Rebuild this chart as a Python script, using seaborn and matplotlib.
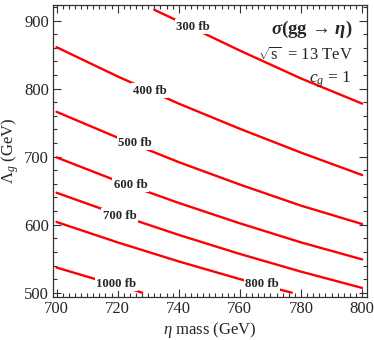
import matplotlib
matplotlib.use('Agg')
import matplotlib.pyplot as plt
from matplotlib.ticker import MultipleLocator
import seaborn as sns

# contour lines: eta mass (GeV) -> Lambda_g (GeV)
m_300 = [732, 740, 760, 780, 800]
lam_300 = [916, 899, 856, 815, 778]
m_400 = [700, 720, 740, 760, 780, 800]
lam_400 = [861, 818, 778, 741, 706, 673]
m_500 = [700, 720, 740, 760, 780, 800]
lam_500 = [766, 728, 692, 659, 628, 601]
m_600 = [700, 720, 740, 760, 780, 800]
lam_600 = [699, 664, 632, 602, 574, 549]
m_700 = [700, 720, 740, 760, 780, 800]
lam_700 = [647, 615, 585, 557, 531, 507]
m_800 = [700, 720, 740, 760, 777]
lam_800 = [604, 574, 546, 520, 500]
m_1000 = [700, 712, 720, 728]
lam_1000 = [537, 521, 512, 500]

contours = [(m_300, lam_300), (m_400, lam_400), (m_500, lam_500), (m_600, lam_600),
            (m_700, lam_700), (m_800, lam_800), (m_1000, lam_1000)]

# label text and where it sits
label_text = ['300 fb', '400 fb', '500 fb', '600 fb', '700 fb', '800 fb', '1000 fb']
label_m = [744.6, 730.5, 725.7, 724.2, 720.7, 767.3, 719.5]
label_lam = [891, 797, 720, 658.4, 613, 512.8, 512.8]

sns.set_style('ticks')
plt.rcParams['font.family'] = ['Liberation Serif', 'DejaVu Serif']
plt.rcParams['mathtext.fontset'] = 'custom'
plt.rcParams['mathtext.rm'] = 'Liberation Serif'
plt.rcParams['mathtext.it'] = 'Liberation Serif:italic'
plt.rcParams['mathtext.bf'] = 'Liberation Serif:bold'
plt.rcParams['mathtext.bfit'] = 'Liberation Serif:bold:italic'

fig = plt.figure(figsize=(3.74, 3.40), dpi=100)
ax = fig.add_axes([53 / 374, 43 / 340, 314 / 374, 292 / 340])

for m, lam in contours:
    sns.lineplot(x=m, y=lam, ax=ax, color='#ff0000', lw=1.7, sort=False, estimator=None)

for t, xm, yl in zip(label_text, label_m, label_lam):
    ax.text(xm, yl, t, fontsize=9.2, fontweight='bold', ha='center', va='center', zorder=5,
            bbox=dict(facecolor='white', edgecolor='none', pad=1.0))

ax.text(0.955, 0.915, r'$\mathbfit{\sigma}\mathbf{(gg}\,\mathbf{\rightarrow}\,\mathbfit{\eta}\mathbf{)}$',
        transform=ax.transAxes, fontsize=13.5, ha='right', va='center')
ax.text(0.955, 0.827, r'$\sqrt{\mathrm{s}}$  = 13 TeV', transform=ax.transAxes,
        fontsize=12, ha='right', va='center')
ax.text(0.95, 0.745, r'$c_g$ = 1', transform=ax.transAxes,
        fontsize=12.5, ha='right', va='center')

ax.set_xlim(698.85, 801.6)
ax.set_ylim(493.7, 923)
ax.xaxis.set_major_locator(MultipleLocator(20))
ax.xaxis.set_minor_locator(MultipleLocator(2))
ax.yaxis.set_major_locator(MultipleLocator(100))
ax.yaxis.set_minor_locator(MultipleLocator(20))
ax.tick_params(which='both', direction='in', top=True, right=True, labelsize=12,
               color='#333333', width=0.8)
ax.tick_params(which='major', length=6, pad=3)
ax.tick_params(which='minor', length=3)
for s in ax.spines.values():
    s.set_visible(True)
    s.set_color('#333333')
    s.set_linewidth(0.9)

ax.set_xlabel(r'$\eta$ mass (GeV)', fontsize=12, labelpad=2)
ax.set_ylabel(r'$\Lambda_g$ (GeV)', fontsize=12, labelpad=2)

fig.savefig('out.png', dpi=100)
